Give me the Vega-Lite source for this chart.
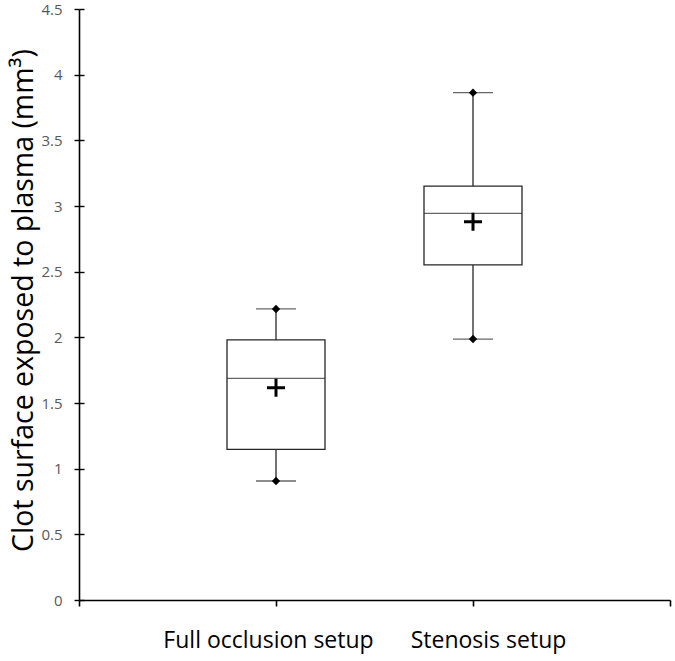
{
  "$schema": "https://vega.github.io/schema/vega-lite/v6.json",
  "width": 591,
  "height": 591,
  "autosize": "none",
  "padding": {"left": 79, "top": 9, "right": 5, "bottom": 61},
  "background": "white",
  "config": {
    "view": {"stroke": null},
    "axis": {"grid": false, "labelFont": "Open Sans", "titleFont": "Open Sans", "domainColor": "#000000", "tickColor": "#000000"}
  },
  "data": {
    "values": [
      {"setup": "Full occlusion setup", "min": 0.906, "q1": 1.147, "median": 1.688, "q3": 1.98, "max": 2.216, "mean": 1.617},
      {"setup": "Stenosis setup", "min": 1.987, "q1": 2.551, "median": 2.944, "q3": 3.152, "max": 3.863, "mean": 2.881}
    ]
  },
  "resolve": {"axis": {"y": "independent"}},
  "layer": [
    {
      "mark": {"type": "rule", "color": "#262626", "strokeWidth": 1.3},
      "encoding": {
        "x": {
          "field": "setup", "type": "nominal",
          "scale": {"type": "point", "domain": ["a", "Full occlusion setup", "Stenosis setup", "b"], "padding": 0},
          "axis": {
            "title": null, "labelAngle": 0, "labelExpr": "datum.value == 'a' || datum.value == 'b' ? '' : datum.value",
            "labelFontSize": 23, "labelColor": "#000000", "labelPadding": 23, "labelLimit": 0, "labelOverlap": false, "tickSize": 6, "domainWidth": 1.6, "tickWidth": 1.6,
            "labelOffset": {"expr": "datum.value == 'Stenosis setup' ? 15 : (datum.value == 'Full occlusion setup' ? -8 : 0)"}
          }
        },
        "y": {
          "field": "min", "type": "quantitative",
          "scale": {"domain": [0, 4.5], "nice": false},
          "axis": {
            "values": [0, 0.5, 1, 1.5, 2, 2.5, 3, 3.5, 4, 4.5], "format": "~g",
            "title": "Clot surface exposed to plasma (mm³)", "titleFontSize": 28.5, "titleFontWeight": "normal", "titleColor": "#000000",
            "titlePadding": 2, "titleY": 291,
            "labelFontSize": 15, "labelColor": "#595959", "labelPadding": 12, "tickSize": 5, "domainWidth": 1.6, "tickWidth": 1.4
          }
        },
        "y2": {"field": "max"}
      }
    },
    {
      "mark": {"type": "bar", "fill": "white", "stroke": "#262626", "strokeWidth": 1.3, "size": 98},
      "encoding": {
        "x": {"field": "setup", "type": "nominal"},
        "y": {
          "field": "q1", "type": "quantitative",
          "axis": {"orient": "left", "labels": false, "domain": false, "title": null, "tickSize": -5, "tickWidth": 1.4, "values": [0, 0.5, 1, 1.5, 2, 2.5, 3, 3.5, 4, 4.5]}
        },
        "y2": {"field": "q3"}
      }
    },
    {
      "mark": {"type": "tick", "color": "#262626", "thickness": 1.3, "size": 98},
      "encoding": {
        "x": {"field": "setup", "type": "nominal"},
        "y": {"field": "median", "type": "quantitative", "axis": null}
      }
    },
    {
      "mark": {"type": "tick", "color": "#262626", "thickness": 1.3, "size": 40},
      "encoding": {
        "x": {"field": "setup", "type": "nominal"},
        "y": {"field": "min", "type": "quantitative", "axis": null}
      }
    },
    {
      "mark": {"type": "tick", "color": "#262626", "thickness": 1.3, "size": 40},
      "encoding": {
        "x": {"field": "setup", "type": "nominal"},
        "y": {"field": "max", "type": "quantitative", "axis": null}
      }
    },
    {
      "mark": {"type": "point", "shape": "diamond", "filled": true, "color": "#000000", "size": 70, "opacity": 1},
      "encoding": {
        "x": {"field": "setup", "type": "nominal"},
        "y": {"field": "min", "type": "quantitative", "axis": null}
      }
    },
    {
      "mark": {"type": "point", "shape": "diamond", "filled": true, "color": "#000000", "size": 70, "opacity": 1},
      "encoding": {
        "x": {"field": "setup", "type": "nominal"},
        "y": {"field": "max", "type": "quantitative", "axis": null}
      }
    },
    {
      "mark": {"type": "point", "shape": "M-1,0H1M0,-1V1", "filled": false, "stroke": "#000000", "strokeWidth": 3, "size": 324, "opacity": 1},
      "encoding": {
        "x": {"field": "setup", "type": "nominal"},
        "y": {"field": "mean", "type": "quantitative", "axis": null}
      }
    }
  ]
}
